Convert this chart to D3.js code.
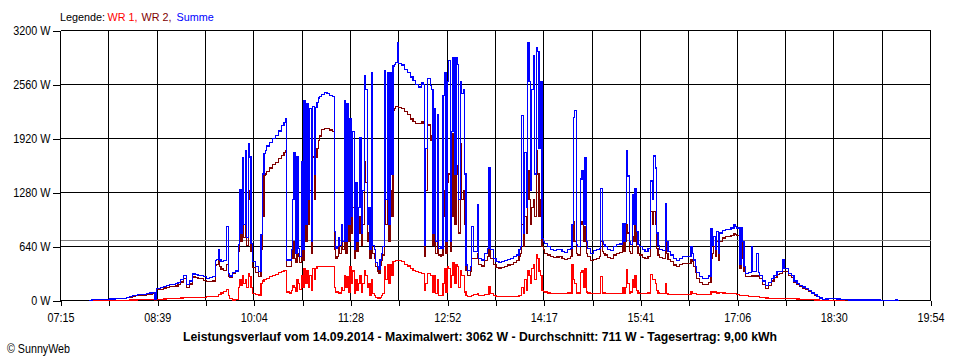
<!DOCTYPE html>
<html><head><meta charset="utf-8">
<script src="https://cdn.jsdelivr.net/npm/d3@7/dist/d3.min.js"></script>
<style>
body{margin:0;background:#fff;}
svg text{font-family:"Liberation Sans",Arial,sans-serif;font-size:13px;fill:#000;}
</style></head><body>
<svg id="c" width="960" height="360"></svg>
<script>
// ---- data ----
const yTicks = [0, 640, 1280, 1920, 2560, 3200];
const xTickLabels = ["07:15","08:39","10:04","11:28","12:52","14:17","15:41","17:06","18:30","19:54"];
const axisStart = "07:15", axisEnd = "19:54";
const seriesStart = "07:40", stepMinutes = 1.25;
const average = 711;
const legendTitle = "Legende:";
const legendItems = ["WR 1,", "WR 2,", "Summe"];
const titleText = "Leistungsverlauf vom 14.09.2014 - Maximalwert: 3062 W - Durchschnitt: 711 W - Tagesertrag: 9,00 kWh";

const summe = [
 0,0,8,8,10,10,12,12,12,12,
 14,14,15,15,18,18,18,18,20,20,
 22,22,25,25,27,27,35,35,45,45,
 55,55,62,62,70,70,72,72,75,75,
 80,80,88,88,95,95,10,140,140,145,
 150,150,165,165,178,178,185,185,192,192,
 198,198,218,218,250,250,297,297,190,190,
 230,230,313,313,310,310,300,300,297,297,
 280,280,265,265,268,268,280,280,470,484,
 603,480,464,464,470,470,880,320,290,290,
 330,330,350,350,666,1320,800,1690,900,1772,750,1856,1700,680,
 464,464,400,400,345,345,
 785,1500,1740,1780,1830,1830,1870,1870,1920,1920,
 1960,1960,2010,2010,2070,2070,2110,2150,480,480,
 480,600,1200,1750,560,1700,620,520,1650,600,2370,900,2330,1200,2280,700,2300,1500,2284,2350,2400,2420,
 2440,2440,2462,2462,2450,2450,2430,2430,
 2420,820,618,640,
 740,650,900,700,
 2367,700,2330,900,2150,1000,2000,600,1400,700,
 1100,1927,800,1300,2665,2500,900,1100,600,2700,
 650,600,450,400,369,480,560,640,2724,1200,
 2700,900,2700,1500,2780,2800,2820,3062,2810,2810,
 2790,2790,2740,2740,2700,2700,2650,2650,2610,2610,2560,2560,2530,2530,2581,2560,
 650,1800,2629,2629,2550,2500,
 800,2280,700,2200,620,640,620,2427,2700,700,2600,2843,700,2000,2879,1500,2879,2800,1200,2600,2450,2500,
 1500,420,
 360,360,400,880,583,583,583,1142,
 500,500,480,480,560,560,620,1570,600,600,500,500,
 460,460,455,455,460,460,475,475,490,490,500,500,520,520,540,540,
 600,640,
 2189,800,1750,1100,3057,2600,1300,2500,2900,1500,3000,2950,1800,2600,
 737,700,
 680,680,640,640,600,600,590,590,600,600,607,607,580,580,570,570,600,600,
 620,904,2165,2248,660,640,
 640,1439,1535,900,1690,700,
 620,620,560,560,590,590,600,600,620,1332,
 700,660,640,640,600,600,590,590,640,640,666,666,670,670,
 916,700,916,1772,1475,700,660,1261,900,1332,
 820,660,640,640,600,600,580,580,620,620,
 1416,1200,1713,1570,800,650,
 600,600,590,590,1154,700,
 583,583,540,540,500,500,470,470,500,500,523,523,523,523,520,520,
 642,560,480,400,330,330,280,280,265,265,262,262,290,290,
 857,650,760,600,820,560,
 800,800,830,830,845,845,845,845,860,860,904,880,860,860,
 428,860,700,400,
 321,321,330,330,642,340,340,340,560,330,
 300,300,230,230,175,175,210,210,260,260,300,300,340,340,345,345,
 488,380,380,380,320,320,300,300,
 230,230,200,200,180,180,160,160,140,140,120,120,90,90,70,70,50,50,30,30,
 15,15,18,18,28,28,28,28,25,25,18,18,16,16,14,14,8,8,
 5,5,5,5,5,5,5,5,5,5,5,5,5,5,5,5,5,5,5,5,5,5,
 0,0,0,0,0,0,0,0,0,0,0,5,0,0];

const wr2 = [
 0,0,8,8,10,10,12,12,12,12,
 14,14,15,15,18,18,18,18,19,19,
 20,20,23,23,24,24,31,31,40,40,
 49,49,55,55,62,62,64,64,66,66,
 70,70,77,77,83,83,3,126,126,130,
 135,135,148,148,158,158,163,163,168,168,
 172,172,190,190,220,220,265,265,157,157,
 196,196,278,278,274,274,263,263,259,259,
 240,240,222,222,222,222,232,232,418,430,
 525,400,374,374,360,360,430,280,270,270,
 325,325,340,340,583,1100,700,1416,750,1400,650,1300,1200,580,
 390,390,330,330,280,280,
 600,1000,1480,1500,1530,1530,1570,1570,1610,1610,
 1640,1640,1680,1680,1720,1720,1750,1772,400,400,
 400,500,700,500,450,560,520,450,700,480,1890,700,1500,900,1300,560,1700,1200,1700,1800,1900,1950,
 2030,2030,2040,2040,2034,2034,2020,2020,
 2000,600,500,520,
 640,560,720,600,
 1800,560,1400,700,1200,800,1100,500,900,580,
 800,1000,650,900,1650,1400,700,800,500,1850,
 560,500,400,350,320,420,480,540,1380,900,
 1300,700,1300,1000,2250,2280,2300,2300,2290,2290,
 2280,2280,2240,2240,2200,2200,2150,2150,2120,2120,2100,2100,2094,2094,2120,2100,
 520,1300,2080,2080,1900,1950,
 650,1400,560,1200,540,520,540,1000,1300,560,1400,1500,580,1000,1975,900,1500,1600,800,1856,1200,1300,
 900,360,
 300,300,340,500,500,500,500,560,
 430,430,410,410,470,470,520,600,500,500,430,430,
 390,390,385,385,390,390,405,405,420,420,430,430,450,450,470,470,
 520,560,
 900,640,1000,800,1535,1200,900,1100,1200,1000,1772,1500,1000,1200,
 640,600,
 560,560,540,540,520,520,510,510,515,515,520,520,500,500,488,488,500,500,
 520,700,940,700,560,540,
 540,940,900,700,880,560,
 520,520,470,470,490,490,500,500,520,700,
 580,560,540,540,510,510,500,500,540,540,560,560,570,570,
 700,580,700,900,800,580,560,760,700,900,
 640,560,540,540,510,510,495,495,520,520,
 1059,900,1059,900,620,540,
 510,510,500,500,700,560,
 490,490,460,460,420,420,400,400,430,430,440,440,440,440,440,440,
 480,460,400,330,260,260,210,210,190,190,185,185,210,210,
 500,560,640,520,700,480,
 700,700,740,740,761,761,761,761,770,770,790,780,770,770,
 380,700,500,350,
 280,280,285,285,300,290,290,290,290,280,
 260,260,190,190,140,140,180,180,230,230,270,270,310,310,320,320,
 340,340,340,340,300,300,270,270,
 210,210,185,185,165,165,145,145,130,130,110,110,82,82,64,64,45,45,27,27,
 13,13,16,16,25,25,25,25,22,22,16,16,15,15,13,13,7,7,
 5,5,5,5,5,5,5,5,5,5,5,5,5,5,5,5,5,5,5,5,5,5,
 0,0,0,0,0,0,0,0,0,0,0,0,0,0];

const wr1 = [
 0,0,0,0,0,0,0,0,0,0,
 0,0,0,0,0,0,0,0,1,1,
 2,2,2,2,3,3,4,4,5,5,
 6,6,7,7,8,8,8,8,9,9,
 10,10,11,11,12,12,10,14,14,14,
 15,15,17,17,20,20,22,22,24,24,
 26,26,28,28,30,30,32,32,33,33,
 34,34,35,35,36,36,37,37,38,38,
 40,40,43,43,46,46,48,48,52,52,
 75,75,90,90,110,110,130,60,20,20,
 5,5,10,10,150,250,180,300,200,250,150,320,280,150,
 80,80,70,70,65,65,
 200,230,250,250,262,262,280,280,300,300,
 310,310,330,330,345,345,355,360,100,100,
 90,120,180,150,110,250,200,130,300,150,380,200,350,150,300,120,380,250,380,400,400,400,
 404,404,404,404,404,404,404,404,
 400,150,100,100,
 80,90,150,120,
 300,150,280,100,400,200,350,80,250,120,
 200,300,100,200,350,300,150,200,60,250,
 80,60,40,30,25,40,60,80,400,250,
 420,200,420,300,460,460,470,470,470,470,
 460,460,430,430,410,410,380,380,360,360,340,340,330,330,320,320,
 120,200,320,320,300,300,
 100,300,80,250,60,60,60,200,380,100,400,380,150,300,450,200,420,400,150,350,300,300,
 100,60,
 50,50,50,60,70,70,70,80,
 60,60,60,60,70,70,70,160,80,80,55,55,
 50,50,48,48,48,48,48,48,48,48,48,48,50,50,50,50,
 55,60,
 150,80,250,120,350,300,200,380,420,250,547,500,350,300,
 120,110,
 100,100,90,90,85,85,83,83,83,83,83,83,83,83,83,83,90,90,
 90,428,250,200,90,90,
 90,330,350,150,380,100,
 90,90,80,80,80,80,80,80,80,280,
 90,90,83,83,80,80,80,80,80,80,80,80,85,85,
 150,90,150,369,200,90,100,250,150,300,
 120,90,85,85,83,83,83,83,90,90,
 309,250,250,200,120,90,
 83,83,83,83,200,80,
 75,75,71,71,71,71,71,71,71,71,75,75,75,75,75,75,
 107,85,85,85,75,75,75,75,75,75,75,75,75,75,
 110,95,100,100,90,90,
 95,95,90,90,85,85,85,85,83,83,80,80,75,75,
 60,60,60,60,
 55,55,50,50,50,50,48,48,45,45,
 40,40,35,35,30,30,28,28,26,26,25,25,25,25,25,25,
 25,25,25,25,24,24,24,24,
 20,20,18,18,16,16,14,14,12,12,10,10,8,8,6,6,5,5,3,3,
 2,2,2,2,2,2,2,2,1,1,0,0,0,0,0,0,0,0,
 0,0,0,0,0,0,0,0,0,0,0,0,0,0,0,0,0,0,0,0,0,0,
 0,0,0,0,0,0,0,0,0,0,0,0,0,0];

if (summe.length !== wr1.length || summe.length !== wr2.length)
  throw new Error("length mismatch " + summe.length + " " + wr1.length + " " + wr2.length);

// ---- chart ----
const toMin = s => { const [h, m] = s.split(":").map(Number); return h * 60 + m; };
const t0 = toMin(axisStart), t1 = toMin(axisEnd), ts = toMin(seriesStart);
const L = 60.5, R = 930.5, T = 30.5, B = 300.5;
const x = d3.scaleLinear().domain([t0, t1]).range([L, R]);
const y = d3.scaleLinear().domain([0, 3200]).range([B, T]);
const svg = d3.select("#c");
const snap = v => Math.round(v - 0.5) + 0.5;

const gridCount = (xTickLabels.length - 1) * 2;
const gridVals = d3.range(gridCount + 1).map(k => t0 + k * (t1 - t0) / gridCount);

// grid
const g = svg.append("g").attr("shape-rendering", "crispEdges");
g.selectAll(".vg").data(gridVals).join("line")
  .attr("x1", d => snap(x(d))).attr("x2", d => snap(x(d)))
  .attr("y1", T).attr("y2", B).attr("stroke", "#000");
g.selectAll(".hg").data(yTicks).join("line")
  .attr("x1", L).attr("x2", R).attr("y1", d => y(d)).attr("y2", d => y(d)).attr("stroke", "#000");

// axes
const ya = svg.append("g").attr("transform", `translate(${L},0)`).attr("shape-rendering", "crispEdges")
  .call(d3.axisLeft(y).tickValues(yTicks).tickSize(8).tickPadding(2).tickFormat(d => d + " W"));
ya.select(".domain").remove();
const xa = svg.append("g").attr("transform", `translate(0,${B})`).attr("shape-rendering", "crispEdges")
  .call(d3.axisBottom(x).tickValues(gridVals).tickSize(5).tickPadding(7)
    .tickFormat((d, i) => i % 2 === 0 ? xTickLabels[i / 2] : ""));
xa.select(".domain").remove();
xa.selectAll("line").attr("transform", d => `translate(${snap(x(d)) - x(d)},0)`);
svg.selectAll(".tick text").attr("font-size", null).attr("font-family", null);
svg.selectAll(".tick line").attr("stroke", "#000");

// average line
svg.append("line").attr("shape-rendering", "crispEdges")
  .attr("x1", L).attr("x2", R).attr("y1", snap(y(average))).attr("y2", snap(y(average)))
  .attr("stroke", "#808080");

// series
const line = d3.line().x((d, i) => x(ts + i * stepMinutes)).y(d => y(d)).curve(d3.curveStepAfter);
const series = [[wr1, "#ff0000"], [wr2, "#800000"], [summe, "#0000ff"]];
series.forEach(([data, col]) => {
  svg.append("path").datum(data).attr("d", line).attr("fill", "none")
    .attr("stroke", col).attr("stroke-width", 1.2).attr("shape-rendering", "crispEdges");
});

// legend (separate texts)
const legend = [
  {t: legendTitle, c: "#000000", x: 60},
  {t: legendItems[0], c: "#ff0000", x: 107.5},
  {t: legendItems[1], c: "#800000", x: 141.5},
  {t: legendItems[2], c: "#0000ff", x: 176.5}
];
svg.selectAll(".lg").data(legend).join("text")
  .attr("x", d => d.x).attr("y", 21).style("fill", d => d.c).style("font-size", "10.8px")
  .text(d => d.t);

// title
svg.append("text").attr("x", 480).attr("y", 341).attr("text-anchor", "middle")
  .style("font-weight", "bold").attr("textLength", 594).attr("lengthAdjust", "spacingAndGlyphs")
  .text(titleText);

// copyright
svg.append("text").attr("x", 7).attr("y", 353)
  .attr("textLength", 63).attr("lengthAdjust", "spacingAndGlyphs").text("© SunnyWeb");

// narrow tick labels
svg.selectAll(".tick text").each(function () {
  const len = this.getComputedTextLength();
  if (len > 0) d3.select(this).attr("textLength", len * 0.83).attr("lengthAdjust", "spacingAndGlyphs");
});
</script>
</body></html>
